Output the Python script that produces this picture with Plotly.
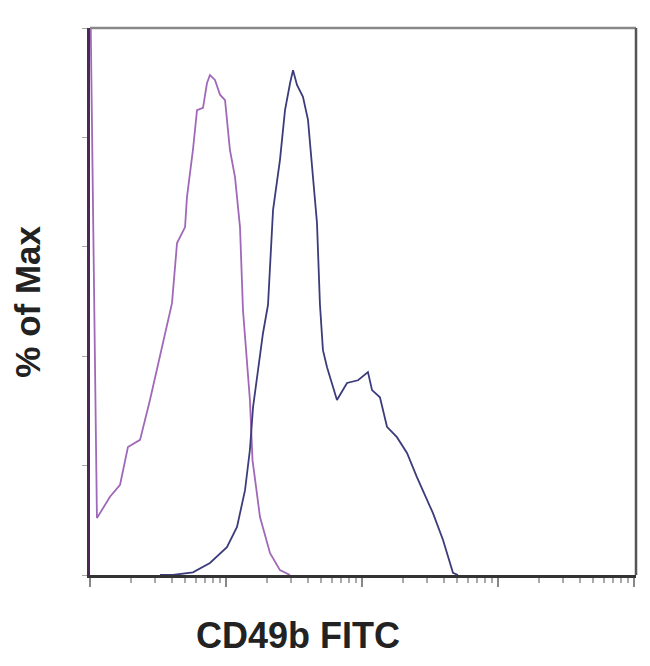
import numpy as np
import plotly.graph_objects as go

# Isotype / control histogram (purple): log10 fluorescence, % of max
ctrl_log = [0.003, 0.051, 0.147, 0.221, 0.279, 0.368, 0.441, 0.515, 0.603, 0.640, 0.699, 0.713,
            0.757, 0.787, 0.831, 0.860, 0.882, 0.919, 0.956, 0.993, 1.029, 1.066, 1.103, 1.125,
            1.176, 1.195, 1.250, 1.324, 1.397, 1.471]
ctrl_pct = [105, 10.4, 14.3, 16.5, 23.4, 24.7, 32.0, 39.9, 49.7, 60.7, 63.6, 69.1,
            77.7, 85.0, 85.4, 89.9, 91.4, 90.5, 87.8, 86.8, 77.7, 72.8, 63.6, 48.4,
            32.0, 21.0, 10.6, 4.0, 0.9, 0.0]

# CD49b FITC stained histogram (navy)
cd49b_log = [0.515, 0.610, 0.757, 0.882, 1.007, 1.081, 1.140, 1.176, 1.199, 1.235, 1.272, 1.309,
             1.346, 1.397, 1.434, 1.471, 1.493, 1.522, 1.566, 1.603, 1.632, 1.669, 1.691, 1.713,
             1.743, 1.816, 1.890, 1.971, 2.044, 2.074, 2.132, 2.184, 2.257, 2.331, 2.404, 2.522,
             2.596, 2.669, 2.706]
cd49b_pct = [0.0, 0.0, 0.5, 2.2, 5.1, 8.8, 15.5, 22.9, 30.7, 36.9, 44.2, 49.4,
             66.7, 75.9, 85.0, 89.9, 92.3, 89.6, 87.4, 83.2, 75.3, 64.4, 49.4, 41.1,
             38.0, 32.0, 35.1, 35.6, 37.1, 33.8, 32.5, 27.1, 25.2, 22.3, 17.9, 11.3,
             6.4, 0.4, 0.0]

y_ticks = [0, 20, 40, 60, 80, 100]
x_decades = [1, 10, 100, 1000, 10000]
x_minor = [m * d for d in [1, 10, 100, 1000] for m in range(2, 10)]

fig = go.Figure()
fig.add_trace(go.Scatter(x=10 ** np.array(ctrl_log), y=ctrl_pct, mode="lines",
                         line=dict(color="#a068b8", width=1.8), cliponaxis=True,
                         showlegend=False))
fig.add_trace(go.Scatter(x=10 ** np.array(cd49b_log), y=cd49b_pct, mode="lines",
                         line=dict(color="#3c3c7c", width=1.8), showlegend=False))

fig.update_layout(
    width=650, height=666,
    margin=dict(l=82, r=22, t=20, b=99),
    paper_bgcolor="white", plot_bgcolor="white",
    font=dict(family="Liberation Sans, Arial, sans-serif", color="#222"),
    xaxis=dict(type="log", range=[0, 4.015], tickvals=x_decades, showticklabels=False,
               ticks="outside", ticklen=9, tickcolor="#888", tickwidth=1.5,
               minor=dict(tickvals=x_minor, ticks="outside", ticklen=5, tickcolor="#aaa",
                          showgrid=False),
               showgrid=False, zeroline=False, showline=True, linecolor="#333", linewidth=2.5),
    yaxis=dict(range=[0, 100], tickvals=y_ticks, showticklabels=False,
               ticks="outside", ticklen=5, tickcolor="#aaa",
               showgrid=False, zeroline=False, showline=True, linecolor="#4a2a55", linewidth=3),
    shapes=[
        dict(type="line", xref="paper", yref="paper", x0=0, x1=1, y0=1, y1=1,
             line=dict(color="#888", width=2.5)),
        dict(type="line", xref="paper", yref="paper", x0=1, x1=1, y0=0, y1=1,
             line=dict(color="#555", width=2.5)),
    ],
    annotations=[
        dict(text="<b>CD49b FITC</b>", xref="paper", yref="paper", x=0.381, y=-0.111,
             xanchor="center", yanchor="middle", showarrow=False,
             font=dict(size=36, color="#222")),
        dict(text="<b>% of Max</b>", xref="paper", yref="paper", x=-0.115, y=0.50,
             xanchor="center", yanchor="middle", textangle=-90, showarrow=False,
             font=dict(size=35, color="#222")),
    ],
)

fig.write_html("out.html")
